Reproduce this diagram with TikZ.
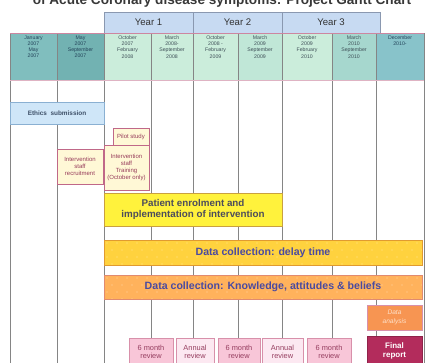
\documentclass[tikz,border=0pt]{standalone}
\usepackage{fontspec}
\setmainfont{Liberation Sans}
\definecolor{yearfill}{HTML}{C7DAF2}
\definecolor{yearline}{HTML}{8A98B0}
\definecolor{hdA}{HTML}{80BEBE}
\definecolor{hdB}{HTML}{72B2B2}
\definecolor{hdC}{HTML}{CBEDDB}
\definecolor{hdD}{HTML}{C0E7D7}
\definecolor{hdE}{HTML}{A6D7CE}
\definecolor{hdF}{HTML}{88C3CA}
\definecolor{hdtxtdark}{HTML}{24445A}
\definecolor{hdtxtlight}{HTML}{3F5058}
\definecolor{gridgray}{HTML}{858585}
\definecolor{ethfill}{HTML}{CFE6F8}
\definecolor{ethline}{HTML}{8AB0D2}
\definecolor{ethtext}{HTML}{3E5068}
\definecolor{paleyel}{HTML}{FFF8D6}
\definecolor{roseline}{HTML}{C06888}
\definecolor{rosetext}{HTML}{963A5A}
\definecolor{brightyel}{HTML}{FFF23C}
\definecolor{brightline}{HTML}{C9A040}
\definecolor{goldfill}{HTML}{FFD23E}
\definecolor{goldline}{HTML}{E09A30}
\definecolor{orfill}{HTML}{FFB25C}
\definecolor{orline}{HTML}{E08A70}
\definecolor{navytext}{HTML}{4A4AA0}
\definecolor{greytext}{HTML}{4C4C5C}
\definecolor{revpink}{HTML}{F8C6D8}
\definecolor{revlight}{HTML}{FCE8F1}
\definecolor{revline}{HTML}{D890AA}
\definecolor{revtext}{HTML}{963E60}
\definecolor{dafill}{HTML}{F79552}
\definecolor{datext}{HTML}{FDE0C8}
\definecolor{frfill}{HTML}{B32C5C}
\begin{document}
\begin{tikzpicture}[x=1pt,y=-1pt,
  every node/.style={inner sep=0pt,outer sep=0pt},
  box/.style={draw,anchor=north west,align=center,line width=0.6pt},
  yearbox/.style={box,fill=yearfill,draw=yearline,font=\fontsize{9.6}{10}\selectfont,text=black!80},
  hdrcell/.style={box,draw=gridgray,minimum height=47},
  hdrtext/.style={align=center,font=\fontsize{5.2}{6.1}\selectfont},
  gridline/.style={draw=gridgray,line width=0.6pt},
  ethbox/.style={box,fill=ethfill,draw=ethline,text=ethtext,font=\fontsize{6.4}{7.4}\bfseries\selectfont},
  planbox/.style={box,fill=paleyel,draw=roseline,text=rosetext,font=\fontsize{6}{7}\selectfont},
  dotted fill/.style={path picture={
    \foreach \ix in {0,...,32}
      \foreach \iy in {0,...,3}
        \fill[white,opacity=.45]
          ([xshift={\ix*10+mod(\iy,2)*5+3}, yshift={-\iy*7-3}]path picture bounding box.north west)
          circle (0.6pt);}},
  revbox/.style={box,draw=revline,text=revtext,minimum height=28,font=\fontsize{7.4}{8.4}\selectfont},
]
\useasboundingbox (0,0) rectangle (444,363);
\fill[white] (0,0) rectangle (444,363);
\begin{scope}
\clip (0,0) rectangle (444,363);

% title, only its lower part lies inside the page
\node[anchor=base,font=\fontsize{13.6}{15}\bfseries\selectfont,text=black!78] (title) at (222,4.6)
  {of Acute Coronary disease symptoms: Project Gantt Chart};

% year bands
\node[yearbox,minimum width=89,minimum height=21] (y1) at (104,12) {Year 1};
\node[yearbox,minimum width=89,minimum height=21] (y2) at (193,12) {Year 2};
\node[yearbox,minimum width=98,minimum height=21] (y3) at (282,12) {Year 3};

% column grid
\foreach \x in {10,57,104,151,193,238,282,332,376,424}
  \draw[gridline] (\x,80) -- (\x,363);

% period header cells
\foreach \i/\xa/\xb/\fc/\tc/\txt in {
  1/10/57/hdA/hdtxtdark/{January\\2007\\May\\2007},
  2/57/104/hdB/hdtxtdark/{May\\2007\\September\\2007},
  3/104/151/hdC/hdtxtlight/{October\\2007\\February\\2008},
  4/151/193/hdC/hdtxtlight/{March\\2008-\\September\\2008},
  5/193/238/hdC/hdtxtlight/{October\\2008 -\\February\\2009},
  6/238/282/hdD/hdtxtlight/{March\\2009\\September\\2009},
  7/282/332/hdC/hdtxtlight/{October\\2009\\February\\2010},
  8/332/376/hdE/hdtxtlight/{March\\2010\\September\\2010},
  9/376/424/hdF/hdtxtdark/{December\\2010-}} {
  \node[hdrcell,fill=\fc,minimum width=\xb-\xa] (h\i) at (\xa,33) {};
  \node[hdrtext,text=\tc,anchor=north] (ht\i) at ([yshift=-3pt]h\i.north) {\txt};
}
\draw[draw=roseline!80,line width=0.7pt] (h1.north west) -- (h9.north east);
\draw[draw=roseline!50,line width=0.5pt] (h1.south west) -- (h9.south east);

% tasks
\node[ethbox,minimum width=94,minimum height=22] (ethics) at (10,102) {Ethics\ \ submission};
\node[planbox,minimum width=36,minimum height=17] (pilot) at (113,128) {Pilot study};
\node[planbox,minimum width=46,minimum height=35] (recruit) at (57,149)
  {Intervention\\staff\\recruitment};
\node[planbox,minimum width=45,minimum height=45] (training) at (104,145)
  {Intervention\\staff\\Training\\(October only)};

\node[box,fill=brightyel,draw=brightline,text=greytext,minimum width=178,minimum height=33,
  font=\fontsize{9.8}{11.5}\bfseries\selectfont] (enrol) at (104,193)
  {Patient enrolment and\\implementation of intervention};

\node[box,dotted fill,fill=goldfill,draw=goldline,text=navytext,minimum width=318,minimum height=25,
  font=\fontsize{10.6}{11}\bfseries\selectfont] (delay) at (104,240)
  {Data collection: delay time};

\node[box,dotted fill,fill=orfill,draw=orline,text=navytext,minimum width=318,minimum height=24,
  font=\fontsize{10.6}{11}\bfseries\selectfont] (kab) at (104,275)
  {Data collection: Knowledge, attitudes \& beliefs};

% reviews and reporting
\node[revbox,fill=revpink,minimum width=44] (rev1) at (129,338) {6 month\\review};
\node[revbox,fill=revlight,minimum width=38] (rev2) at (176,338) {Annual\\review};
\node[revbox,fill=revpink,minimum width=42] (rev3) at (218,338) {6 month\\review};
\node[revbox,fill=revlight,minimum width=41] (rev4) at (262,338) {Annual\\review};
\node[revbox,fill=revpink,minimum width=44] (rev5) at (307,338) {6 month\\review};

\node[box,fill=dafill,draw=revline,text=datext,minimum width=55,minimum height=25,
  font=\fontsize{6.6}{8.2}\itshape\selectfont] (analysis) at (367,305) {Data\\analysis};
\node[box,fill=frfill,draw=frfill!80!black,text=white,minimum width=55,minimum height=30,
  font=\fontsize{8}{9.2}\bfseries\selectfont] (report) at (367,336) {Final\\report};

\end{scope}
\end{tikzpicture}
\end{document}
